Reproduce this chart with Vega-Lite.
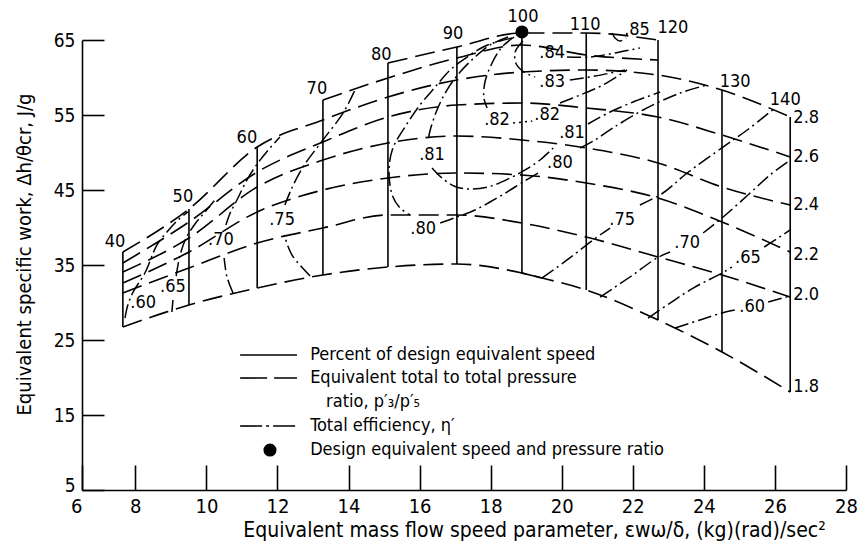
{
 "$schema": "https://vega.github.io/schema/vega-lite/v6.json",
 "width": 764, "height": 450,
 "autosize": {"type": "none"},
 "padding": {"left": 82, "top": 40, "right": 14, "bottom": 56},
 "background": "white",
 "config": {"font": "DejaVu Sans Condensed, Liberation Sans Narrow, sans-serif", "view": {"stroke": null}},
 "datasets": {
  "lines": [
   {"id":"s40","k":"speed","o":1,"x":7.65,"y":36.73},{"id":"s40","k":"speed","o":2,"x":7.65,"y":26.73},
   {"id":"s50","k":"speed","o":1,"x":9.51,"y":42.47},{"id":"s50","k":"speed","o":2,"x":9.51,"y":29.67},
   {"id":"s60","k":"speed","o":1,"x":11.43,"y":50.73},{"id":"s60","k":"speed","o":2,"x":11.43,"y":31.93},
   {"id":"s70","k":"speed","o":1,"x":13.28,"y":57},{"id":"s70","k":"speed","o":2,"x":13.28,"y":33.67},
   {"id":"s80","k":"speed","o":1,"x":15.11,"y":61.93},{"id":"s80","k":"speed","o":2,"x":15.11,"y":34.73},
   {"id":"s90","k":"speed","o":1,"x":17.05,"y":64.07},{"id":"s90","k":"speed","o":2,"x":17.05,"y":35.13},
   {"id":"s100","k":"speed","o":1,"x":18.88,"y":65.93},{"id":"s100","k":"speed","o":2,"x":18.88,"y":33.93},{"id":"s100","k":"speed","o":3,"x":19.45,"y":33.27},
   {"id":"s110","k":"speed","o":1,"x":20.69,"y":65.93},{"id":"s110","k":"speed","o":2,"x":20.69,"y":31.67},
   {"id":"s120","k":"speed","o":1,"x":22.71,"y":65},{"id":"s120","k":"speed","o":2,"x":22.71,"y":27.67},
   {"id":"s130","k":"speed","o":1,"x":24.51,"y":58.33},{"id":"s130","k":"speed","o":2,"x":24.51,"y":23.4},
   {"id":"s140","k":"speed","o":1,"x":26.43,"y":54.73},{"id":"s140","k":"speed","o":2,"x":26.43,"y":18.07},
   {"id":"lsp","k":"speed","o":1,"x":10.95,"y":23},{"id":"lsp","k":"speed","o":2,"x":12.55,"y":23},

   {"id":"p18","k":"pr","o":1,"x":7.65,"y":26.73},{"id":"p18","k":"pr","o":2,"x":9.51,"y":29.67},{"id":"p18","k":"pr","o":3,"x":11.43,"y":31.93},{"id":"p18","k":"pr","o":4,"x":13.28,"y":33.67},{"id":"p18","k":"pr","o":5,"x":15.11,"y":34.73},{"id":"p18","k":"pr","o":6,"x":17.05,"y":35.13},{"id":"p18","k":"pr","o":7,"x":18.88,"y":33.93},{"id":"p18","k":"pr","o":8,"x":19.45,"y":33.27},{"id":"p18","k":"pr","o":9,"x":20.69,"y":31.67},{"id":"p18","k":"pr","o":10,"x":22.71,"y":27.67},{"id":"p18","k":"pr","o":11,"x":24.51,"y":23.4},{"id":"p18","k":"pr","o":12,"x":26.43,"y":18.07},
   {"id":"p20","k":"pr","o":1,"x":7.65,"y":31.27},{"id":"p20","k":"pr","o":2,"x":9.51,"y":34.6},{"id":"p20","k":"pr","o":3,"x":11.43,"y":37.93},{"id":"p20","k":"pr","o":4,"x":13.28,"y":39.93},{"id":"p20","k":"pr","o":5,"x":15.11,"y":41.67},{"id":"p20","k":"pr","o":6,"x":17.05,"y":41.67},{"id":"p20","k":"pr","o":7,"x":18.88,"y":40.6},{"id":"p20","k":"pr","o":8,"x":20.69,"y":38.73},{"id":"p20","k":"pr","o":9,"x":22.71,"y":36.07},{"id":"p20","k":"pr","o":10,"x":24.51,"y":33.67},{"id":"p20","k":"pr","o":11,"x":26.43,"y":30.73},
   {"id":"p22","k":"pr","o":1,"x":7.65,"y":32.6},{"id":"p22","k":"pr","o":2,"x":9.51,"y":36.73},{"id":"p22","k":"pr","o":3,"x":11.43,"y":42.07},{"id":"p22","k":"pr","o":4,"x":13.28,"y":45},{"id":"p22","k":"pr","o":5,"x":15.11,"y":46.6},{"id":"p22","k":"pr","o":6,"x":17.05,"y":47.27},{"id":"p22","k":"pr","o":7,"x":18.88,"y":47},{"id":"p22","k":"pr","o":8,"x":20.69,"y":45.93},{"id":"p22","k":"pr","o":9,"x":22.71,"y":43.93},{"id":"p22","k":"pr","o":10,"x":24.51,"y":40.73},{"id":"p22","k":"pr","o":11,"x":26.43,"y":36.73},
   {"id":"p24","k":"pr","o":1,"x":7.65,"y":34.07},{"id":"p24","k":"pr","o":2,"x":9.51,"y":38.6},{"id":"p24","k":"pr","o":3,"x":11.43,"y":45.4},{"id":"p24","k":"pr","o":4,"x":13.28,"y":49},{"id":"p24","k":"pr","o":5,"x":15.11,"y":51.27},{"id":"p24","k":"pr","o":6,"x":17.05,"y":52.2},{"id":"p24","k":"pr","o":7,"x":18.88,"y":51.67},{"id":"p24","k":"pr","o":8,"x":20.69,"y":50.6},{"id":"p24","k":"pr","o":9,"x":22.71,"y":48.6},{"id":"p24","k":"pr","o":10,"x":24.51,"y":45.4},{"id":"p24","k":"pr","o":11,"x":26.43,"y":43},
   {"id":"p26","k":"pr","o":1,"x":7.65,"y":35.27},{"id":"p26","k":"pr","o":2,"x":9.51,"y":40.73},{"id":"p26","k":"pr","o":3,"x":11.43,"y":47.4},{"id":"p26","k":"pr","o":4,"x":13.28,"y":51.4},{"id":"p26","k":"pr","o":5,"x":15.11,"y":54.73},{"id":"p26","k":"pr","o":6,"x":17.05,"y":56.33},{"id":"p26","k":"pr","o":7,"x":18.88,"y":56.6},{"id":"p26","k":"pr","o":8,"x":20.69,"y":55.93},{"id":"p26","k":"pr","o":9,"x":22.71,"y":54.73},{"id":"p26","k":"pr","o":10,"x":24.51,"y":52.33},{"id":"p26","k":"pr","o":11,"x":26.43,"y":49.4},
   {"id":"p28","k":"pr","o":1,"x":7.65,"y":36.73},{"id":"p28","k":"pr","o":2,"x":9.51,"y":42.47},{"id":"p28","k":"pr","o":3,"x":11.43,"y":50.73},{"id":"p28","k":"pr","o":4,"x":13.28,"y":54.33},{"id":"p28","k":"pr","o":5,"x":15.11,"y":57.4},{"id":"p28","k":"pr","o":6,"x":17.05,"y":59.67},{"id":"p28","k":"pr","o":7,"x":18.88,"y":60.73},{"id":"p28","k":"pr","o":8,"x":20.69,"y":61},{"id":"p28","k":"pr","o":9,"x":22.71,"y":60.33},{"id":"p28","k":"pr","o":10,"x":24.51,"y":58.33},{"id":"p28","k":"pr","o":11,"x":26.43,"y":54.73},
   {"id":"p30","k":"pr","o":1,"x":13.28,"y":57},{"id":"p30","k":"pr","o":2,"x":15.11,"y":59.93},{"id":"p30","k":"pr","o":3,"x":17.05,"y":62.6},{"id":"p30","k":"pr","o":4,"x":18.88,"y":64.33},{"id":"p30","k":"pr","o":5,"x":20.69,"y":63},{"id":"p30","k":"pr","o":6,"x":22.71,"y":62.33},
   {"id":"p32","k":"pr","o":1,"x":15.11,"y":61.93},{"id":"p32","k":"pr","o":2,"x":17.05,"y":64.07},{"id":"p32","k":"pr","o":3,"x":18.88,"y":65.93},{"id":"p32","k":"pr","o":4,"x":20.69,"y":65.93},{"id":"p32","k":"pr","o":5,"x":22.71,"y":65},

   {"id":"e60L","k":"eff","o":1,"x":7.71,"y":27.93},{"id":"e60L","k":"eff","o":2,"x":7.79,"y":29.67},{"id":"e60L","k":"eff","o":3,"x":7.94,"y":31.4},{"id":"e60L","k":"eff","o":4,"x":8.27,"y":33.93},{"id":"e60L","k":"eff","o":5,"x":8.61,"y":37.67},{"id":"e60L","k":"eff","o":6,"x":8.89,"y":39.4},{"id":"e60L","k":"eff","o":7,"x":9.2,"y":41},{"id":"e60L","k":"eff","o":8,"x":9.48,"y":42.07},
   {"id":"e65La","k":"eff","o":1,"x":9.03,"y":28.73},{"id":"e65La","k":"eff","o":2,"x":9.06,"y":30.33},
   {"id":"e65Lb","k":"eff","o":1,"x":9.15,"y":33.53},{"id":"e65Lb","k":"eff","o":2,"x":9.26,"y":36.33},{"id":"e65Lb","k":"eff","o":3,"x":9.43,"y":38.6},{"id":"e65Lb","k":"eff","o":4,"x":9.68,"y":40.47},{"id":"e65Lb","k":"eff","o":5,"x":9.96,"y":42.07},{"id":"e65Lb","k":"eff","o":6,"x":10.24,"y":43.67},
   {"id":"e70La","k":"eff","o":1,"x":10.75,"y":31.27},{"id":"e70La","k":"eff","o":2,"x":10.58,"y":33.4},{"id":"e70La","k":"eff","o":3,"x":10.5,"y":35.93},
   {"id":"e70Lb","k":"eff","o":1,"x":10.55,"y":40.33},{"id":"e70Lb","k":"eff","o":2,"x":10.67,"y":41.93},{"id":"e70Lb","k":"eff","o":3,"x":10.86,"y":43.67},{"id":"e70Lb","k":"eff","o":4,"x":11.14,"y":46.33},{"id":"e70Lb","k":"eff","o":5,"x":11.43,"y":48.47},{"id":"e70Lb","k":"eff","o":6,"x":11.74,"y":50.33},{"id":"e70Lb","k":"eff","o":7,"x":12.07,"y":52.07},
   {"id":"e75La","k":"eff","o":1,"x":12.92,"y":33.53},{"id":"e75La","k":"eff","o":2,"x":12.41,"y":36.33},{"id":"e75La","k":"eff","o":3,"x":12.19,"y":39},
   {"id":"e75Lb","k":"eff","o":1,"x":12.21,"y":43},{"id":"e75Lb","k":"eff","o":2,"x":12.38,"y":45},{"id":"e75Lb","k":"eff","o":3,"x":12.72,"y":48.07},{"id":"e75Lb","k":"eff","o":4,"x":13.28,"y":51.67},{"id":"e75Lb","k":"eff","o":5,"x":13.85,"y":55.27},{"id":"e75Lb","k":"eff","o":6,"x":14.18,"y":58.33},
   {"id":"e80a","k":"eff","o":1,"x":18.6,"y":65.27},{"id":"e80a","k":"eff","o":2,"x":18.26,"y":64.87},{"id":"e80a","k":"eff","o":3,"x":17.79,"y":64.07},{"id":"e80a","k":"eff","o":4,"x":17.34,"y":62.73},{"id":"e80a","k":"eff","o":5,"x":16.86,"y":61},{"id":"e80a","k":"eff","o":6,"x":16.44,"y":58.73},{"id":"e80a","k":"eff","o":7,"x":16.01,"y":56.33},{"id":"e80a","k":"eff","o":8,"x":15.59,"y":53.4},{"id":"e80a","k":"eff","o":9,"x":15.25,"y":50.6},{"id":"e80a","k":"eff","o":10,"x":15.14,"y":47.67},{"id":"e80a","k":"eff","o":11,"x":15.23,"y":44.33},{"id":"e80a","k":"eff","o":12,"x":15.45,"y":42.6},{"id":"e80a","k":"eff","o":13,"x":15.73,"y":41.67},
   {"id":"e80b","k":"eff","o":1,"x":16.58,"y":40.6},{"id":"e80b","k":"eff","o":2,"x":17.05,"y":41.4},{"id":"e80b","k":"eff","o":3,"x":17.56,"y":42.33},{"id":"e80b","k":"eff","o":4,"x":17.98,"y":43.4},{"id":"e80b","k":"eff","o":5,"x":18.46,"y":44.73},{"id":"e80b","k":"eff","o":6,"x":18.91,"y":46.07},{"id":"e80b","k":"eff","o":7,"x":19.39,"y":47.4},
   {"id":"e80c","k":"eff","o":1,"x":20.52,"y":50.6},{"id":"e80c","k":"eff","o":2,"x":20.94,"y":51.67},{"id":"e80c","k":"eff","o":3,"x":21.44,"y":53.27},{"id":"e80c","k":"eff","o":4,"x":22.29,"y":55.67},{"id":"e80c","k":"eff","o":5,"x":23.33,"y":57.93},{"id":"e80c","k":"eff","o":6,"x":24.09,"y":59},
   {"id":"e81a","k":"eff","o":1,"x":18.49,"y":65.4},{"id":"e81a","k":"eff","o":2,"x":17.98,"y":64.33},{"id":"e81a","k":"eff","o":3,"x":17.56,"y":62.73},{"id":"e81a","k":"eff","o":4,"x":17.14,"y":60.73},{"id":"e81a","k":"eff","o":5,"x":16.77,"y":58.33},{"id":"e81a","k":"eff","o":6,"x":16.49,"y":55.67},{"id":"e81a","k":"eff","o":7,"x":16.3,"y":53},{"id":"e81a","k":"eff","o":8,"x":16.24,"y":51.67},
   {"id":"e81b","k":"eff","o":1,"x":16.35,"y":47.93},{"id":"e81b","k":"eff","o":2,"x":16.63,"y":46.6},{"id":"e81b","k":"eff","o":3,"x":17.0,"y":45.47},{"id":"e81b","k":"eff","o":4,"x":17.42,"y":45.13},{"id":"e81b","k":"eff","o":5,"x":17.98,"y":45.47},{"id":"e81b","k":"eff","o":6,"x":18.55,"y":46.6},{"id":"e81b","k":"eff","o":7,"x":18.97,"y":47.67},{"id":"e81b","k":"eff","o":8,"x":19.39,"y":49},{"id":"e81b","k":"eff","o":9,"x":19.76,"y":50.6},
   {"id":"e81c","k":"eff","o":1,"x":20.74,"y":53.8},{"id":"e81c","k":"eff","o":2,"x":21.36,"y":55.4},{"id":"e81c","k":"eff","o":3,"x":22.01,"y":56.73},{"id":"e81c","k":"eff","o":4,"x":22.77,"y":58.07},
   {"id":"e82a","k":"eff","o":1,"x":18.66,"y":65.4},{"id":"e82a","k":"eff","o":2,"x":18.32,"y":64.07},{"id":"e82a","k":"eff","o":3,"x":18.04,"y":61.93},{"id":"e82a","k":"eff","o":4,"x":17.84,"y":59.4},{"id":"e82a","k":"eff","o":5,"x":17.81,"y":57.27},{"id":"e82a","k":"eff","o":6,"x":17.9,"y":55.93},
   {"id":"e82d","k":"dot","o":1,"x":18.63,"y":53.93},{"id":"e82d","k":"dot","o":2,"x":19.17,"y":54.2},
   {"id":"e82b","k":"eff","o":1,"x":19.95,"y":56.6},{"id":"e82b","k":"eff","o":2,"x":20.52,"y":57.67},{"id":"e82b","k":"eff","o":3,"x":21.16,"y":59},{"id":"e82b","k":"eff","o":4,"x":21.84,"y":61},
   {"id":"e83a","k":"eff","o":1,"x":18.91,"y":64.87},{"id":"e83a","k":"eff","o":2,"x":18.69,"y":63.4},{"id":"e83a","k":"eff","o":3,"x":18.72,"y":61.8},{"id":"e83a","k":"eff","o":4,"x":18.94,"y":60.73},{"id":"e83a","k":"eff","o":5,"x":19.25,"y":60.07},
   {"id":"e83b","k":"eff","o":1,"x":20.23,"y":59.67},{"id":"e83b","k":"eff","o":2,"x":20.94,"y":60.2},{"id":"e83b","k":"eff","o":3,"x":21.78,"y":61},
   {"id":"e84","k":"eff","o":1,"x":20.15,"y":62.73},{"id":"e84","k":"eff","o":2,"x":20.8,"y":62.73},{"id":"e84","k":"eff","o":3,"x":21.5,"y":63.27},{"id":"e84","k":"eff","o":4,"x":22.2,"y":63.93},
   {"id":"e85","k":"eff","o":1,"x":21.42,"y":65.93},{"id":"e85","k":"eff","o":2,"x":21.5,"y":65.27},{"id":"e85","k":"eff","o":3,"x":21.64,"y":64.87},{"id":"e85","k":"eff","o":4,"x":21.81,"y":65.27},
   {"id":"e75Ra","k":"eff","o":1,"x":19.45,"y":33.27},{"id":"e75Ra","k":"eff","o":2,"x":20.15,"y":35.67},{"id":"e75Ra","k":"eff","o":3,"x":20.88,"y":38.33},{"id":"e75Ra","k":"eff","o":4,"x":21.36,"y":39.93},
   {"id":"e75Rb","k":"eff","o":1,"x":22.2,"y":43},{"id":"e75Rb","k":"eff","o":2,"x":22.85,"y":44.6},{"id":"e75Rb","k":"eff","o":3,"x":23.53,"y":47.27},{"id":"e75Rb","k":"eff","o":4,"x":24.54,"y":50.73},{"id":"e75Rb","k":"eff","o":5,"x":25.22,"y":53},{"id":"e75Rb","k":"eff","o":6,"x":26.0,"y":55.93},
   {"id":"e70Ra","k":"eff","o":1,"x":21.08,"y":30.73},{"id":"e70Ra","k":"eff","o":2,"x":21.92,"y":33.4},{"id":"e70Ra","k":"eff","o":3,"x":22.68,"y":35.93},{"id":"e70Ra","k":"eff","o":4,"x":23.05,"y":36.73},
   {"id":"e70Rb","k":"eff","o":1,"x":23.98,"y":39.27},{"id":"e70Rb","k":"eff","o":2,"x":24.51,"y":41.27},{"id":"e70Rb","k":"eff","o":3,"x":25.24,"y":44.33},{"id":"e70Rb","k":"eff","o":4,"x":25.86,"y":47},{"id":"e70Rb","k":"eff","o":5,"x":26.43,"y":49},
   {"id":"e65Ra","k":"eff","o":1,"x":22.43,"y":27.93},{"id":"e65Ra","k":"eff","o":2,"x":23.05,"y":29.93},{"id":"e65Ra","k":"eff","o":3,"x":23.7,"y":31.93},{"id":"e65Ra","k":"eff","o":4,"x":24.51,"y":33.93},{"id":"e65Ra","k":"eff","o":5,"x":24.79,"y":34.73},
   {"id":"e65Rb","k":"eff","o":1,"x":25.7,"y":37.4},{"id":"e65Rb","k":"eff","o":2,"x":26.43,"y":39.67},
   {"id":"e60Ra","k":"eff","o":1,"x":23.19,"y":26.6},{"id":"e60Ra","k":"eff","o":2,"x":23.89,"y":27.67},{"id":"e60Ra","k":"eff","o":3,"x":24.51,"y":28.6},{"id":"e60Ra","k":"eff","o":4,"x":24.88,"y":29},
   {"id":"e60Rb","k":"eff","o":1,"x":25.81,"y":30.07},{"id":"e60Rb","k":"eff","o":2,"x":26.43,"y":30.87},

   {"id":"lpr","k":"lpr","o":1,"x":10.95,"y":19.93},{"id":"lpr","k":"lpr","o":2,"x":12.55,"y":19.93},
   {"id":"leff","k":"leff","o":1,"x":10.95,"y":13.53},{"id":"leff","k":"leff","o":2,"x":12.55,"y":13.53}
  ],
  "labels": [
   {"t":"40","x":7.43,"y":38.07},{"t":"50","x":9.34,"y":44.07},{"t":"60","x":11.14,"y":51.93},{"t":"70","x":13.11,"y":58.47},{"t":"80","x":14.92,"y":63},{"t":"90","x":16.94,"y":65.8},{"t":"100","x":18.91,"y":68.07},{"t":"110","x":20.66,"y":67},{"t":"120","x":23.13,"y":66.6},{"t":"130","x":24.88,"y":59.4},{"t":"140","x":26.29,"y":57},
   {"t":"2.8","x":26.88,"y":54.6},{"t":"2.6","x":26.88,"y":49.4},{"t":"2.4","x":26.88,"y":43},{"t":"2.2","x":26.88,"y":36.33},{"t":"2.0","x":26.88,"y":31},{"t":"1.8","x":26.88,"y":18.73},
   {"t":".60","x":8.22,"y":29.93},{"t":".65","x":9.06,"y":32.07},{"t":".70","x":10.41,"y":38.33},{"t":".75","x":12.13,"y":41},{"t":".80","x":16.1,"y":39.8},{"t":".81","x":16.35,"y":49.67},{"t":".82","x":18.18,"y":54.33},{"t":".82","x":19.59,"y":55},{"t":".81","x":20.29,"y":52.6},{"t":".80","x":19.95,"y":48.6},{"t":".83","x":19.73,"y":59.4},{"t":".84","x":19.73,"y":63.27},{"t":".85","x":22.12,"y":66.33},{"t":".75","x":21.7,"y":41},{"t":".70","x":23.53,"y":37.93},{"t":".65","x":25.24,"y":35.93},{"t":".60","x":25.36,"y":29.4}
  ],
  "legtext": [
   {"t":"Percent of design equivalent speed","x":12.92,"y":23},
   {"t":"Equivalent total to total pressure","x":12.92,"y":19.93},
   {"t":"ratio, p′₃/p′₅","x":13.37,"y":16.73},
   {"t":"Total efficiency, η′","x":12.92,"y":13.53},
   {"t":"Design equivalent speed and pressure ratio","x":12.92,"y":10.33}
  ],
  "pts": [
   {"x":18.88,"y":66.07},{"x":11.79,"y":10.33}
  ]
 },
 "encoding": {
  "x": {"field":"x","type":"quantitative","scale":{"domain":[6.5,28],"nice":false,"zero":false},
   "axis":{"values":[6.5,8,10,12,14,16,18,20,22,24,26,28],"labelExpr":"datum.value == 6.5 ? '6' : datum.label",
    "labelAlign":{"condition":{"test":"datum.value == 6.5","value":"right"},"value":"center"},
    "labelFlush":false,"labelOverlap":false,"grid":false,"tickSize":-25,"tickColor":"black","tickWidth":1.6,
    "domainColor":"black","domainWidth":1.6,"labelPadding":31,"labelFontSize":20,"labelColor":"black",
    "title":"Equivalent mass flow speed parameter, εwω/δ, (kg)(rad)/sec²","titleFontSize":21,"titleFontWeight":"normal","titleColor":"black",
    "titleX":452,"titleY":46,"titleBaseline":"alphabetic","titleAlign":"center"}},
  "y": {"field":"y","type":"quantitative","scale":{"domain":[5,65],"nice":false,"zero":false},
   "axis":{"values":[5,15,25,35,45,55,65],"grid":false,"tickSize":-22,"tickColor":"black","tickWidth":1.6,
    "domainColor":"black","domainWidth":1.6,"labelPadding":29,"labelFontSize":19,"labelColor":"black","labelOverlap":false,"labelFlush":false,
    "labelOffset":{"condition":{"test":"datum.value == 5","value":-5},"value":0},
    "title":"Equivalent specific work, Δh/θcr, J/g","titleFontSize":20,"titleFontWeight":"normal","titleColor":"black",
    "titleX":-52,"titleY":214,"titleAngle":-90,"titleAlign":"center","titleBaseline":"alphabetic"}}
 },
 "layer": [
  {"data":{"name":"lines"},"transform":[{"filter":"datum.k == 'speed'"}],
   "mark":{"type":"line","color":"black","strokeWidth":1.6},
   "encoding":{"detail":{"field":"id"},"order":{"field":"o","type":"quantitative"}}},
  {"data":{"name":"lines"},"transform":[{"filter":"datum.k == 'pr'"}],
   "mark":{"type":"line","color":"black","strokeWidth":1.6,"interpolate":"monotone","strokeDash":[20,8]},
   "encoding":{"detail":{"field":"id"},"order":{"field":"o","type":"quantitative"}}},
  {"data":{"name":"lines"},"transform":[{"filter":"datum.k == 'eff'"}],
   "mark":{"type":"line","color":"black","strokeWidth":1.5,"interpolate":"catmull-rom","strokeDash":[14,4,2,4]},
   "encoding":{"detail":{"field":"id"},"order":{"field":"o","type":"quantitative"}}},
  {"data":{"name":"lines"},"transform":[{"filter":"datum.k == 'dot'"}],
   "mark":{"type":"line","color":"black","strokeWidth":1.5,"strokeDash":[2,4]},
   "encoding":{"detail":{"field":"id"},"order":{"field":"o","type":"quantitative"}}},
  {"data":{"name":"lines"},"transform":[{"filter":"datum.k == 'lpr'"}],
   "mark":{"type":"line","color":"black","strokeWidth":1.6,"strokeDash":[27,7]},
   "encoding":{"detail":{"field":"id"},"order":{"field":"o","type":"quantitative"}}},
  {"data":{"name":"lines"},"transform":[{"filter":"datum.k == 'leff'"}],
   "mark":{"type":"line","color":"black","strokeWidth":1.6,"strokeDash":[22,4,3,4]},
   "encoding":{"detail":{"field":"id"},"order":{"field":"o","type":"quantitative"}}},
  {"data":{"name":"labels"},
   "mark":{"type":"text","fontSize":18,"color":"black","align":"center","baseline":"middle"},
   "encoding":{"text":{"field":"t"}}},
  {"data":{"name":"legtext"},
   "mark":{"type":"text","fontSize":18,"color":"black","align":"left","baseline":"middle"},
   "encoding":{"text":{"field":"t"}}},
  {"data":{"name":"pts"},
   "mark":{"type":"circle","color":"black","opacity":1,"size":170},
   "encoding":{}}
 ]
}
